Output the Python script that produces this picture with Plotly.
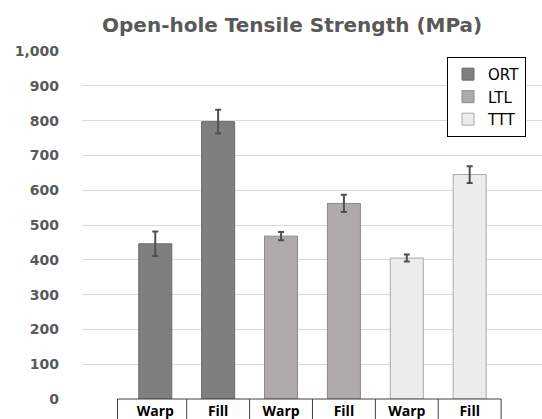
import plotly.graph_objects as go

categories = ["Warp", "Fill", "Warp", "Fill", "Warp", "Fill"]
series_names = ["ORT", "LTL", "TTT"]
ort_values = [446, 797]
ort_errors = [35, 34]
ltl_values = [468, 562]
ltl_errors = [12, 25]
ttt_values = [405, 645]
ttt_errors = [10, 24]
y_ticks = [0, 100, 200, 300, 400, 500, 600, 700, 800, 900, 1000]

fill_colors = ["#7f7f7f", "#aeaaaa", "#ececec"]
line_colors = ["#6a6a6a", "#8e8a8a", "#a9a9a9"]

values = [ort_values, ltl_values, ttt_values]
errors = [ort_errors, ltl_errors, ttt_errors]
idx = list(range(len(categories)))

fig = go.Figure()
for k, name in enumerate(series_names):
    xs = idx[2 * k:2 * k + 2]
    fig.add_trace(go.Bar(
        x=xs, y=values[k], name=name, width=0.525,
        marker=dict(color=fill_colors[k], line=dict(color=line_colors[k], width=1)),
        error_y=dict(type="data", array=errors[k], color="#505050", thickness=2, width=3),
    ))

# category "table" boxes under the axis
shapes = []
box_line = dict(color="#404040", width=1)
shapes.append(dict(type="line", xref="x", yref="paper", x0=idx[0] - 0.6, x1=idx[-1] + 0.5,
                   y0=0, y1=0, line=box_line))
for i in range(len(categories) + 1):
    xb = i - 0.5 if i > 0 else -0.6
    shapes.append(dict(type="line", xref="x", yref="paper", x0=xb, x1=xb,
                       y0=0, y1=-0.08, line=box_line))

fig.update_layout(
    width=542, height=419,
    margin=dict(l=82, r=0, t=51, b=20, autoexpand=False),
    paper_bgcolor="white", plot_bgcolor="white",
    barmode="overlay",
    showlegend=True,
    title=dict(text="<b>Open-hole Tensile Strength (MPa)</b>", xref="container", x=0.539,
               xanchor="center", yref="container", y=0.94, yanchor="middle",
               font=dict(family="DejaVu Sans", size=20, color="#595959")),
    legend=dict(x=0.7935, y=0.983, xanchor="left", yanchor="top",
                bordercolor="#000000", borderwidth=1, bgcolor="white",
                font=dict(family="DejaVu Sans", size=15, color="#000000"),
                tracegroupgap=0),
    xaxis=dict(range=[-1.165, 6.15], tickmode="array", tickvals=idx, ticktext=categories,
               showgrid=False, zeroline=False, showline=False, ticks="",
               automargin=False, ticklabelstandoff=2,
               tickfont=dict(family="Open Sans", size=14, color="#000000", weight="bold")),
    yaxis=dict(range=[0, 1000], tickmode="array", tickvals=y_ticks,
               ticktext=[f"{v:,}" for v in y_ticks],
               showgrid=True, gridcolor="#d9d9d9", gridwidth=1, zeroline=False,
               showline=False, ticks="", ticklabelstandoff=22, automargin=False,
               tickfont=dict(family="DejaVu Sans", size=14, color="#595959", weight="bold")),
    shapes=shapes,
)

fig.write_html("out.html", config={"displayModeBar": False},
               post_script="document.body.style.margin='0';document.body.style.overflow='hidden';")
